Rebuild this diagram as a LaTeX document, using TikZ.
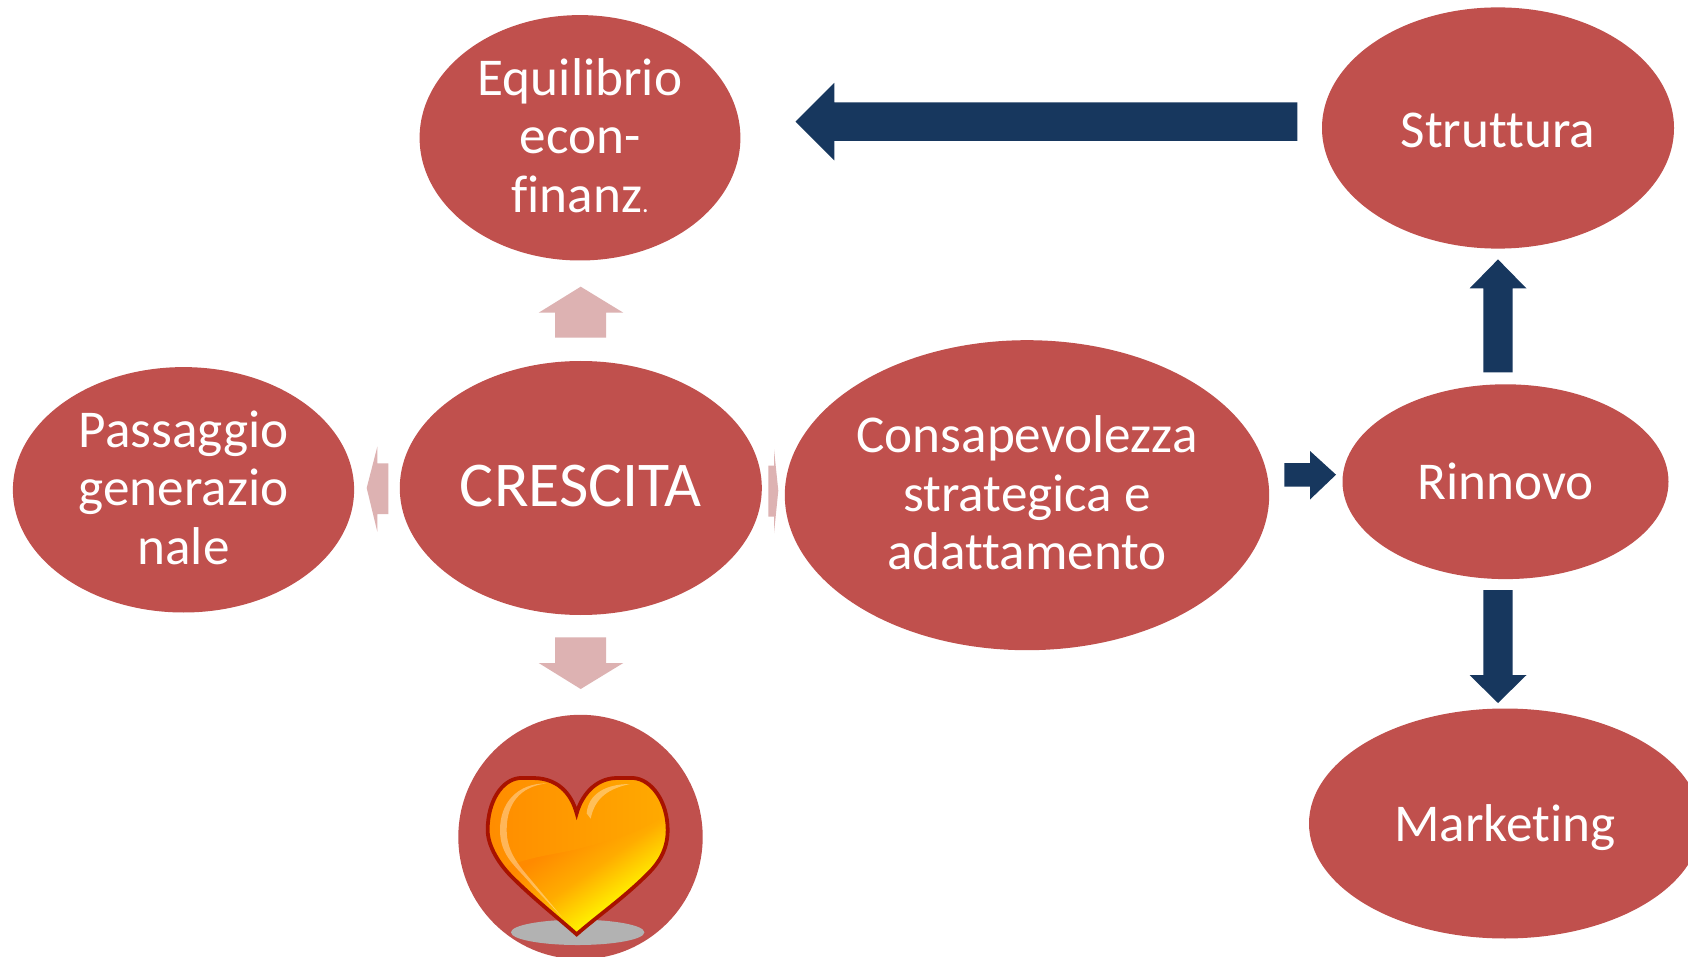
\documentclass[tikz,border=0pt]{standalone}
\usepackage{fontspec}
\setmainfont[Ligatures=NoCommon]{Carlito}
\usetikzlibrary{shapes.geometric}
\definecolor{blob}{HTML}{C0504D}
\definecolor{pinkarrow}{HTML}{DDB2B2}
\definecolor{navy}{HTML}{17375E}
\definecolor{heartA}{HTML}{FF8A00}
\definecolor{heartB}{HTML}{FFAC00}
\definecolor{heartC}{HTML}{FFF200}
\definecolor{heartline}{HTML}{A81200}
\pgfdeclareverticalshading{heartgrad}{100bp}{color(0bp)=(heartC); color(34bp)=(heartC); color(47bp)=(heartB); color(60bp)=(heartA); color(100bp)=(heartA)}
\tikzset{
  blobnode/.style={ellipse,fill=blob,draw=none,inner sep=0pt},
  blobtext/.style={text=white,align=center,inner sep=0pt,font=\fontsize{26.6}{29.3}\selectfont},
  softarrow/.style={fill=pinkarrow,draw=none},
  hardarrow/.style={fill=navy,draw=none}
}
\begin{document}
\begin{tikzpicture}[x=0.5pt,y=-0.5pt]
\useasboundingbox (0,0) rectangle (1688,957);
\clip (0,0) rectangle (1688,957);
\fill[white] (0,0) rectangle (1688,957);
% ellipses
\node[blobnode,minimum width=160.4pt,minimum height=122.7pt,label={[blobtext,yshift=1.1pt]center:{Equilibrio\\econ-\\finanz{\fontsize{13}{13}\selectfont.}}}] (equil) at (580,137.8) {};
\node[blobnode,minimum width=176pt,minimum height=120.6pt,label={[blobtext,yshift=-1.1pt]center:{Struttura}}] (strutt) at (1498,128) {};
\node[blobnode,minimum width=181pt,minimum height=127pt,label={[blobtext,font=\fontsize{31.9}{34}\selectfont,yshift=1.1pt]center:{CRESCITA}}] (cresc) at (580.8,488) {};
\node[blobnode,minimum width=170.6pt,minimum height=122.7pt,label={[blobtext,yshift=1.1pt]center:{Passaggio\\generazio\\nale}}] (pass) at (183.5,489.8) {};
\node[blobnode,minimum width=242.2pt,minimum height=155pt,label={[blobtext,yshift=1.1pt]center:{Consapevolezza\\strategica e\\adattamento}}] (cons) at (1027,495.2) {};
\node[blobnode,minimum width=163pt,minimum height=97.4pt,label={[blobtext]center:{Rinnovo}}] (rinn) at (1505.5,481.7) {};
\node[blobnode,minimum width=196pt,minimum height=115pt,label={[blobtext,yshift=-2.1pt]center:{Marketing}}] (mark) at (1505,823.5) {};
\node[circle,fill=blob,inner sep=0pt,minimum size=122.2pt] (cuore) at (580.5,837) {};
% pale arrows
\fill[softarrow] (580.7,286.7) -- (623.3,312.7) -- (606,312.7) -- (606,337.7) -- (555,337.7) -- (555,312.7) -- (538.7,312.7) -- cycle;
\fill[softarrow] (580.7,689) -- (623.3,663) -- (606,663) -- (606,637.3) -- (555,637.3) -- (555,663) -- (538.7,663) -- cycle;
\fill[softarrow] (366.7,488) -- (377.3,446.7) -- (377.3,463.3) -- (388.3,463.3) -- (388.3,514) -- (377.3,514) -- (377.3,531.7) -- cycle;
\fill[softarrow] (778.3,490.7) -- (774,449.3) -- (774,465.7) -- (768.3,465.7) -- (768.3,516.7) -- (774,516.7) -- (774,533) -- cycle;
% dark arrows
\fill[hardarrow] (795.5,121.6) -- (834.3,82.9) -- (834.3,102.3) -- (1297.3,102.3) -- (1297.3,141) -- (834.3,141) -- (834.3,160.4) -- cycle;
\fill[hardarrow] (1498,259.4) -- (1526.5,288.5) -- (1512.5,288.5) -- (1512.5,372.5) -- (1483.3,372.5) -- (1483.3,288.5) -- (1469.5,288.5) -- cycle;
\fill[hardarrow] (1498,703) -- (1526.5,675) -- (1512.5,675) -- (1512.5,590) -- (1483.3,590) -- (1483.3,675) -- (1469.5,675) -- cycle;
\fill[hardarrow] (1336,474.7) -- (1310,451) -- (1310,463) -- (1284.3,463) -- (1284.3,486.6) -- (1310,486.6) -- (1310,499.5) -- cycle;
% heart
\begin{scope}[shift={(440,690)},x=0.1666667pt,y=-0.1666667pt]
\fill[black!30] (413,727) ellipse (200 and 38);
\def\heartpath{(410,370) .. controls (398,325) and (365,265) .. (280,264) .. controls (260,264) and (250,264) .. (240,264) .. controls (185,268) and (143,335) .. (143,420) .. controls (143,470) and (180,525) .. (215,560) .. controls (280,625) and (350,680) .. (410,733) .. controls (470,680) and (550,625) .. (625,550) .. controls (655,520) and (683,480) .. (683,420) .. controls (683,335) and (635,268) .. (580,264) .. controls (560,264) and (550,264) .. (530,264) .. controls (460,265) and (422,325) .. (410,370) -- cycle}
\begin{scope}
\clip \heartpath;
% lower part
\shade[shading=heartgrad,shading angle=35] (130,320) rectangle (700,745);
% upper band
\shade[left color=heartA,right color=heartB] (100,240) -- (720,240) -- (720,340) .. controls (620,420) and (560,440) .. (400,480) .. controls (330,495) and (280,500) .. (210,525) -- (100,560) -- cycle;
% highlights
\fill[white,opacity=.35] (320,280) .. controls (230,280) and (180,340) .. (180,420) .. controls (180,500) and (230,530) .. (280,590) -- (365,680) -- (290,590) .. controls (240,530) and (200,490) .. (200,420) .. controls (200,340) and (240,290) .. (320,280) -- cycle;
\fill[white,opacity=.35] (570,282) .. controls (500,282) and (445,310) .. (440,370) -- (452,386) .. controls (465,320) and (510,295) .. (570,282) -- cycle;
\end{scope}
\draw[line width=1.9pt,draw=heartline] \heartpath;
\end{scope}
\end{tikzpicture}
\end{document}
